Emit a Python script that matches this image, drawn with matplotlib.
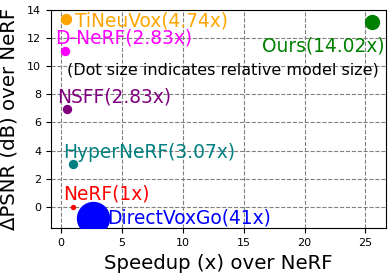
import matplotlib
matplotlib.use("Agg")
import matplotlib.pyplot as plt

names = ["TiNeuVox(4.74x)", "D-NeRF(2.83x)", "NSFF(2.83x)", "HyperNeRF(3.07x)", "NeRF(1x)", "DirectVoxGo(41x)", "Ours(14.02x)"]
speedup = [0.4, 0.33, 0.5, 1.0, 1.0, 2.65, 25.5]
dpsnr = [13.3, 11.1, 6.96, 3.06, 0.0, -0.75, 13.1]
sizes = [52, 33, 33, 33, 8, 530, 100]
colors = ["orange", "magenta", "purple", "teal", "red", "blue", "green"]
label_x = [1.16, -0.5, -0.35, 0.15, 0.15, 3.8, 26.6]
label_y = [13.2, 12.0, 7.8, 3.9, 0.9, -0.8, 11.4]
label_ha = ["left", "left", "left", "left", "left", "left", "right"]

fig, ax = plt.subplots(figsize=(3.92, 2.75), dpi=100)
for i in range(len(names)):
    ax.scatter(speedup[i], dpsnr[i], s=sizes[i], c=colors[i], zorder=3)
    ax.text(label_x[i], label_y[i], names[i], color=colors[i], fontsize=13.4,
            ha=label_ha[i], va="center", zorder=4)
ax.text(0.5, 9.7, "(Dot size indicates relative model size)", fontsize=11.5,
        ha="left", va="center")
ax.set_xlim(-0.83, 26.7)
ax.set_ylim(-1.5, 14)
ax.set_xticks([0, 5, 10, 15, 20, 25])
ax.set_yticks([0, 2, 4, 6, 8, 10, 12, 14])
ax.tick_params(labelsize=8)
ax.grid(True, linestyle="--", color="gray")
ax.set_xlabel("Speedup (x) over NeRF", fontsize=14.2)
ax.set_ylabel("ΔPSNR (dB) over NeRF", fontsize=14.2, labelpad=6)
fig.subplots_adjust(left=0.13, right=0.985, top=0.965, bottom=0.17)
fig.savefig("out.png")
